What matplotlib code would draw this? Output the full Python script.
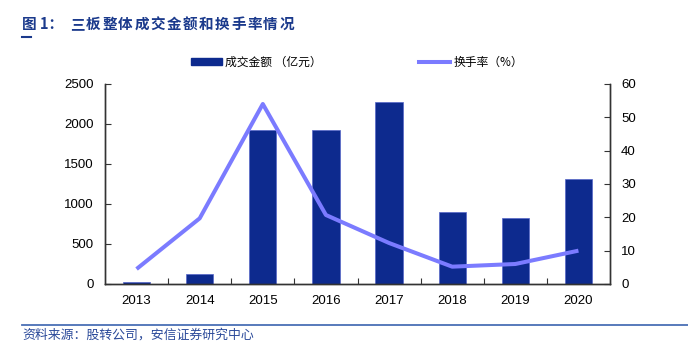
import matplotlib as mpl
import matplotlib.pyplot as plt
from matplotlib.lines import Line2D
from matplotlib.patches import Patch

mpl.rcParams['font.family'] = ['Liberation Sans', 'Noto Sans CJK SC', 'DejaVu Sans']
mpl.rcParams['font.size'] = 9.5

years = ['2013', '2014', '2015', '2016', '2017', '2018', '2019', '2020']
amount = [30, 130, 1925, 1920, 2275, 900, 830, 1310]      # 成交金额（亿元）
turnover = [4.5, 19.7, 54.0, 20.7, 12.3, 5.2, 6.0, 10.0]  # 换手率（%）

bar_color = '#0D2A8E'
line_color = '#7B7BFF'
title_color = '#1B3A8C'
cjk = ['Noto Sans CJK SC', 'DejaVu Sans']

fig = plt.figure(figsize=(6.88, 3.5), dpi=100)
ax = fig.add_axes([105 / 688, 1 - 284 / 350, 505 / 688, 200 / 350])
ax2 = ax.twinx()

x = range(len(years))
ax.bar(x, amount, width=0.43, color=bar_color, edgecolor='#5566c8', linewidth=0.5)
ax2.plot(x, turnover, color=line_color, linewidth=2.9, solid_capstyle='butt')

ax.set_xlim(-0.5, len(years) - 0.5)
ax.set_ylim(0, 2500)
ax.set_yticks(range(0, 2501, 500))
ax2.set_ylim(0, 60)
ax2.set_yticks(range(0, 61, 10))

# 类别刻度在柱子之间
ax.set_xticks([i + 0.5 for i in range(len(years) - 1)])
ax.set_xticklabels([])
ax.set_xticks(list(x), minor=True)
ax.set_xticklabels(years, minor=True)
ax.tick_params(axis='x', which='major', direction='in', length=4, color='#333333')
ax.tick_params(axis='x', which='minor', length=0, pad=8)
ax.tick_params(axis='y', direction='in', length=4, pad=8, color='#333333')
ax2.tick_params(axis='y', direction='in', length=4, pad=8, color='#333333')

for a in (ax, ax2):
    a.spines['top'].set_visible(False)
    for s in ('left', 'right', 'bottom'):
        a.spines[s].set_color('#333333')
        a.spines[s].set_linewidth(1.0)

handles = [Patch(facecolor=bar_color, edgecolor=bar_color),
           Line2D([], [], color=line_color, linewidth=2.9)]
leg = fig.legend(handles, ['成交金额 （亿元）', '换手率（%）'],
                 loc='center', bbox_to_anchor=(357 / 688, 1 - 62 / 350), ncol=2,
                 frameon=False, handlelength=2.6, handleheight=0.5, handletextpad=0.3,
                 columnspacing=8.2, prop={'family': cjk, 'size': 8.5})

# 标题：字间距较宽，逐字排
title_y = 1 - 24 / 350
fig.text(22 / 688, title_y, '图 1：', family=cjk, fontsize=10.5,
         fontweight='bold', color=title_color, va='center')
for i, ch in enumerate('三板整体成交金额和换手率情况'):
    fig.text((70 + 16.1 * i) / 688, title_y, ch, family=cjk, fontsize=10.5,
             fontweight='bold', color=title_color, va='center')
fig.add_artist(Line2D([22 / 688, 31 / 688], [1 - 37 / 350, 1 - 37 / 350],
                      color=title_color, linewidth=1.5))

fig.add_artist(Line2D([22 / 688, 1.0], [1 - 325 / 350, 1 - 325 / 350],
                      color='#4A6FB5', linewidth=1.3))
fig.text(22 / 688, 1 - 335 / 350, '资料来源：股转公司，安信证券研究中心',
         family=cjk, fontsize=9.3, color='#2B4A9A', va='center')

fig.savefig('out.png', dpi=100)
